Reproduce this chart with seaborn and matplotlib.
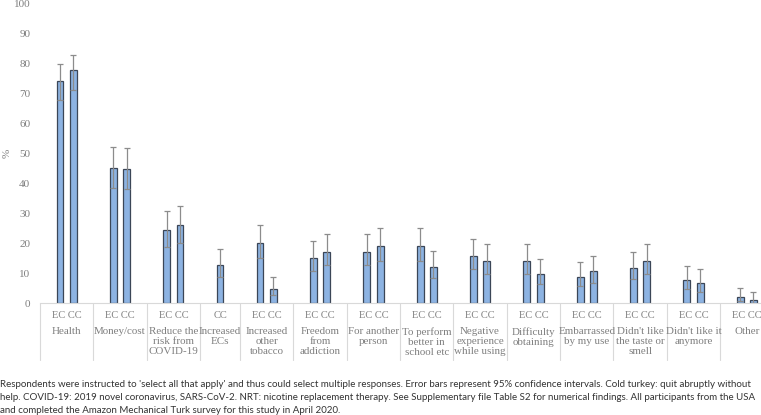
import numpy as np
import pandas as pd
import matplotlib
matplotlib.use("Agg")
import matplotlib.pyplot as plt
import matplotlib.transforms as mtransforms
import seaborn as sns

# Reasons for quitting (x groups), wrapped as in the original
reasons = ["Health", "Money/cost", "Reduce the\nrisk from\nCOVID-19", "Increased\nECs",
           "Increased\nother\ntobacco", "Freedom\nfrom\naddiction", "For another\nperson",
           "To perform\nbetter in\nschool etc", "Negative\nexperience\nwhile using",
           "Difficulty\nobtaining", "Embarrassed\nby my use", "Didn't like\nthe taste or\nsmell",
           "Didn't like it\nanymore", "Other"]

# EC = e-cigarettes, CC = combustible cigarettes (None = not asked)
ec_pct = [74.1, 45.1, 24.4, None, 20.0, 15.2, 17.1, 19.0, 15.7, 14.2, 8.8, 11.8, 7.8, 2.0]
ec_lo = [67.8, 38.3, 18.9, None, 15.0, 10.8, 12.6, 14.2, 11.3, 9.8, 5.6, 8.0, 4.7, 0.6]
ec_hi = [79.7, 52.0, 30.9, None, 26.1, 20.8, 23.0, 25.0, 21.3, 19.7, 13.6, 17.0, 12.4, 5.0]

cc_pct = [77.6, 44.7, 26.0, 12.7, 4.8, 17.1, 19.0, 12.2, 14.2, 9.8, 10.7, 14.2, 6.9, 1.1]
cc_lo = [71.1, 38.0, 20.0, 8.7, 2.6, 12.6, 14.2, 8.3, 9.8, 6.3, 6.9, 9.8, 3.9, 0.2]
cc_hi = [82.8, 51.6, 32.4, 18.0, 8.9, 23.0, 25.0, 17.4, 19.7, 14.7, 15.9, 19.7, 11.3, 3.9]

yticks = list(range(0, 101, 10))

# group layout: each group is 2 slots wide, a single-bar group 1.5
widths = [1.5 if e is None else 2.0 for e in ec_pct]
edges = np.concatenate([[0], np.cumsum(widths)])
centers = (edges[:-1] + edges[1:]) / 2

rows = []
for i, r in enumerate(reasons):
    if ec_pct[i] is None:
        rows.append(dict(reason=r, kind="CC", x=centers[i], pct=cc_pct[i], lo=cc_lo[i], hi=cc_hi[i]))
    else:
        rows.append(dict(reason=r, kind="EC", x=centers[i] - 0.25, pct=ec_pct[i], lo=ec_lo[i], hi=ec_hi[i]))
        rows.append(dict(reason=r, kind="CC", x=centers[i] + 0.25, pct=cc_pct[i], lo=cc_lo[i], hi=cc_hi[i]))
df = pd.DataFrame(rows)

sns.set_style("white")
plt.rcParams["font.family"] = ["Liberation Serif", "DejaVu Serif"]

fig = plt.figure(figsize=(7.61, 4.15), dpi=100)
ax = fig.add_axes([40 / 761, 1 - 303.3 / 415, 1 - 40 / 761, 300 / 415])

sns.barplot(data=df, x="x", y="pct", native_scale=True, width=0.52, color="#8db3e2",
            saturation=1, edgecolor="#3b4657", linewidth=0.9, errorbar=None, ax=ax)

ax.errorbar(df["x"], df["pct"], yerr=[df["pct"] - df["lo"], df["hi"] - df["pct"]],
            fmt="none", ecolor="#8c8c8c", elinewidth=0.9, capsize=2, capthick=0.9)

ax.set_xlim(0, (761 - 40) / 26.67)
ax.set_ylim(0, 100)
ax.set_yticks(yticks)
ax.set_yticklabels([str(t) for t in yticks], color="#7f7f7f", fontsize=8)
ax.tick_params(axis="y", length=0, pad=7)
ax.set_xticks([])
ax.set_xlabel("")
ax.set_ylabel("")
fig.text(7 / 761, 1 - 153 / 415, "%", rotation=90, ha="center", va="center",
         color="#7f7f7f", fontsize=8)
for s in ["top", "right", "left"]:
    ax.spines[s].set_visible(False)
ax.spines["bottom"].set_color("#d9d9d9")
ax.spines["bottom"].set_linewidth(0.8)

# multi-level category labels under the axis
trans = mtransforms.blended_transform_factory(ax.transData, ax.transAxes)
for e in edges:
    ax.plot([e, e], [0, -0.19], transform=trans, color="#d9d9d9", lw=0.8, clip_on=False)
for i, r in enumerate(reasons):
    sub = "CC" if ec_pct[i] is None else "EC CC"
    ax.text(centers[i], -0.04, sub, transform=trans, ha="center", va="center",
            color="#7f7f7f", fontsize=7.5)
    ax.text(centers[i], -0.079, r, transform=trans, ha="center", va="top",
            color="#7f7f7f", fontsize=7.9, linespacing=1.15)

caption = ("Respondents were instructed to 'select all that apply' and thus could select multiple responses. "
           "Error bars represent 95% confidence intervals. Cold turkey: quit abruptly without\n"
           "help. COVID-19: 2019 novel coronavirus, SARS-CoV-2. NRT: nicotine replacement therapy. "
           "See Supplementary file Table S2 for numerical findings. All participants from the USA\n"
           "and completed the Amazon Mechanical Turk survey for this study in April 2020.")
fig.text(0.0, 1 - 380 / 415, caption, ha="left", va="top", fontsize=7.0, color="#333333",
         family=["Lato", "DejaVu Sans"], linespacing=1.6)

fig.savefig("out.png", dpi=100)
